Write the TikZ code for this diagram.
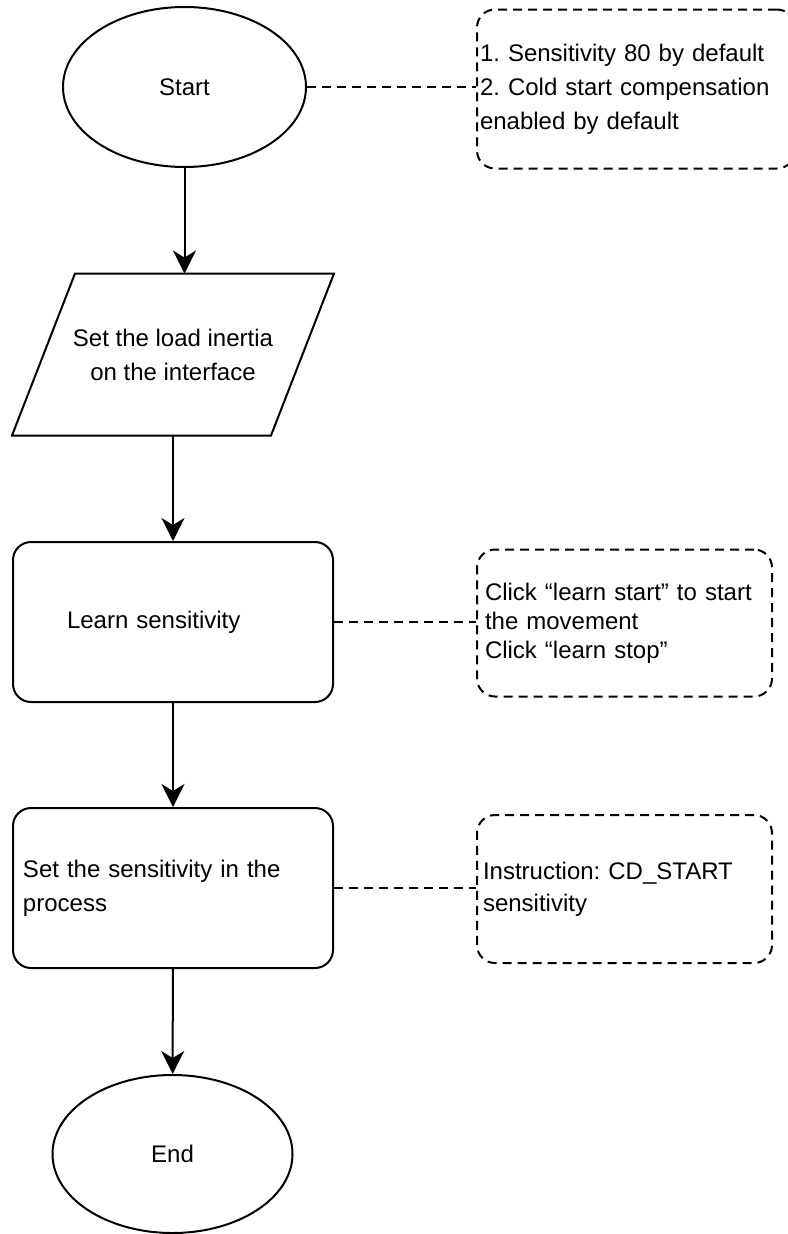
\documentclass[tikz,border=0pt]{standalone}
\usepackage{fontspec}
\setmainfont{Liberation Sans}
\frenchspacing
\usetikzlibrary{shapes.geometric,arrows.meta,positioning}

\begin{document}
\begin{tikzpicture}[x=1pt,y=-1pt,line width=2pt,
every node/.style={draw,inner sep=0pt,font=\fontsize{24}{34}\selectfont},
term/.style={ellipse,minimum width=243pt,minimum height=160pt},
io/.style={draw=none,minimum width=257pt,minimum height=160pt,align=center},
proc/.style={rounded corners=18pt,minimum width=320pt,minimum height=160pt,text width=300pt,align=left},
note/.style={dash pattern=on 9pt off 6pt,rounded corners=18pt,align=left},
link/.style={dash pattern=on 9pt off 6pt},
flow/.style={-{Stealth[length=23pt,width=23pt,inset=7pt]}}]
\useasboundingbox (0,0) rectangle (787,1234);
\node[term] (1) at (184.5,87) {Start};
\node[io] (2) at (173,354.5) {Set the load inertia\\on the interface};
\draw ([xshift=31.5pt]2.north west) -- ([xshift=31.5pt]2.north east) -- ([xshift=-31.5pt]2.south east) -- ([xshift=-31.5pt]2.south west) -- cycle;
\node[proc] (3) at (173,622) {\hspace*{44pt}Learn sensitivity};
\node[proc] (4) at (173,888) {Set the sensitivity in the\\process};
\node[term,minimum width=240pt,minimum height=158pt] (5) at (172.5,1154) {End};

\node[note,minimum width=318pt,minimum height=159pt,text width=312pt] (6) at (636,89) {1. Sensitivity 80 by default\\2. Cold start compensation\\enabled by default};
\node[note,minimum width=295pt,minimum height=147pt,text width=279pt,font=\fontsize{24}{29}\selectfont] (7) at (624.5,623) {\makebox[278pt][s]{Click “learn start” to start}\\the movement\\Click “learn stop”};
\node[note,minimum width=295pt,minimum height=148pt,text width=283pt,font=\fontsize{24}{32}\selectfont] (8) at (624.5,889) {Instruction: CD\_START\\sensitivity};

\draw[flow] (1.south) -- (1.south |- 2.north);
\draw[flow] (2.south) -- (3.north);
\draw[flow] (3) -- (4);
\draw[flow] (4) -- (5);
\draw[link] (1.east) -- (1.east -| 6.west);
\draw[link] (3.east) -- (3.east -| 7.west);
\draw[link] (4.east) -- (4.east -| 8.west);

\end{tikzpicture}
\end{document}
